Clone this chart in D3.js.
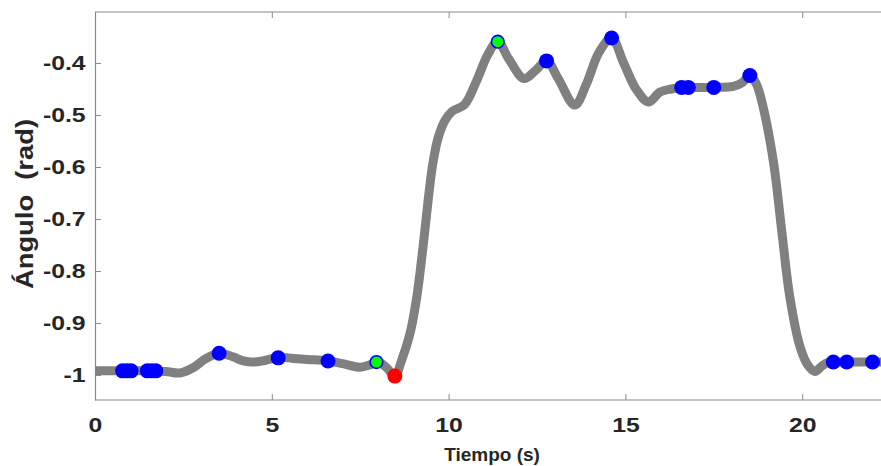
<!DOCTYPE html>
<html>
<head>
<meta charset="utf-8">
<script src="https://cdn.jsdelivr.net/npm/d3@7"></script>
<style>
  body { margin: 0; background: #fff; }
  svg { display: block; font-family: "Liberation Sans", Arial, sans-serif; }
</style>
</head>
<body>
<svg id="chart" width="881" height="466"></svg>
<script>
// time (s) and joint angle (rad)
const time = [0, 0.5, 1.0, 1.5, 2.0, 2.4, 2.8, 3.1, 3.5, 3.9, 4.2, 4.5, 4.8, 5.2, 5.6, 6.0,
  6.6, 7.0, 7.5, 7.8, 8.0, 8.25, 8.48, 8.67, 8.91, 9.1, 9.28, 9.42, 9.55, 9.7, 9.9, 10.1,
  10.45, 10.8, 11.1, 11.39, 11.7, 12.13, 12.45, 12.77, 13.1, 13.57, 13.9, 14.25, 14.61,
  14.95, 15.3, 15.65, 15.98, 16.3, 16.6, 17.0, 17.5, 18.05, 18.3, 18.52, 18.7, 18.85,
  19.18, 19.42, 19.65, 19.94, 20.15, 20.36, 20.55, 20.75, 21.0, 22.3];
const angle = [-0.992, -0.992, -0.992, -0.992, -0.993, -0.996, -0.985, -0.970, -0.958, -0.965,
  -0.973, -0.975, -0.972, -0.966, -0.968, -0.970, -0.973, -0.978, -0.985, -0.980, -0.975,
  -0.986, -1.002, -0.972, -0.920, -0.850, -0.752, -0.665, -0.595, -0.545, -0.510, -0.493,
  -0.480, -0.433, -0.385, -0.359, -0.392, -0.430, -0.415, -0.396, -0.430, -0.481, -0.440,
  -0.380, -0.352, -0.400, -0.450, -0.475, -0.456, -0.450, -0.447, -0.447, -0.447, -0.445,
  -0.438, -0.424, -0.440, -0.472, -0.587, -0.722, -0.850, -0.946, -0.980, -0.993, -0.983,
  -0.975, -0.975, -0.975];

// detected events
const blueTime = [0.78, 0.9, 1.02, 1.48, 1.6, 1.72, 3.51, 5.18, 6.59, 12.77, 14.61, 16.59,
  16.78, 17.5, 18.52, 20.88, 21.26, 21.99];
const blueAngle = [-0.992, -0.992, -0.992, -0.992, -0.992, -0.992, -0.958, -0.967, -0.973,
  -0.396, -0.352, -0.447, -0.447, -0.447, -0.424, -0.975, -0.975, -0.975];
const greenTime = [7.96, 11.39];
const greenAngle = [-0.975, -0.359];
const redTime = [8.48];
const redAngle = [-1.002];

const xTicks = [0, 5, 10, 15, 20];
const yTicks = [-1, -0.9, -0.8, -0.7, -0.6, -0.5, -0.4];

const margin = { top: 12, left: 95, bottom: 66 };
const W = 881, H = 466;

const svg = d3.select("#chart");

const x = d3.scaleLinear().domain([0, 22.3]).range([margin.left, margin.left + 22.3 * 35.36]);
const y = d3.scaleLinear().domain([-1.048, -0.302]).range([H - margin.bottom, margin.top]);

// clip the trace to the axes box, like the original plot
svg.append("clipPath").attr("id", "plotArea")
  .append("rect")
  .attr("x", margin.left).attr("y", margin.top)
  .attr("width", W - margin.left).attr("height", H - margin.bottom - margin.top);

const fmt = d => (+d.toFixed(1)).toString();
const axisColor = "#8a8a8a";

// bottom axis
const gx = svg.append("g")
  .attr("transform", "translate(0," + (H - margin.bottom) + ")")
  .call(d3.axisBottom(x).tickValues(xTicks).tickFormat(fmt).tickSizeInner(-6).tickSizeOuter(0).tickPadding(17));

// top axis (ticks only)
const gt = svg.append("g")
  .attr("transform", "translate(0," + margin.top + ")")
  .call(d3.axisTop(x).tickValues(xTicks).tickFormat("").tickSizeInner(-6).tickSizeOuter(0));

// left axis
const gy = svg.append("g")
  .attr("transform", "translate(" + margin.left + ",0)")
  .call(d3.axisLeft(y).tickValues(yTicks).tickFormat(fmt).tickSizeInner(-6).tickSizeOuter(0).tickPadding(8));

[gx, gt, gy].forEach(g => {
  g.select(".domain").attr("stroke", axisColor).attr("stroke-width", 1.2);
  g.selectAll(".tick line").attr("stroke", axisColor);
  g.selectAll("text")
    .attr("fill", "#262626")
    .attr("transform", "scale(1.18,1)")
    .style("font-family", '"Liberation Sans", Arial, sans-serif')
    .style("font-size", "21px")
    .style("font-weight", "bold");
});
gx.select(".domain").attr("d", "M" + margin.left + ",0H" + W);
gt.select(".domain").attr("d", "M" + margin.left + ",0H" + W);

// trace
const pts = time.map((t, i) => [t, angle[i]]);
svg.append("path")
  .datum(pts)
  .attr("clip-path", "url(#plotArea)")
  .attr("fill", "none")
  .attr("stroke", "#808080")
  .attr("stroke-width", 9)
  .attr("stroke-linecap", "round")
  .attr("stroke-linejoin", "round")
  .attr("d", d3.line().x(d => x(d[0])).y(d => y(d[1])).curve(d3.curveCatmullRom.alpha(0.5)));

// markers
svg.append("g").selectAll("circle")
  .data(blueTime.map((t, i) => [t, blueAngle[i]]))
  .join("circle")
  .attr("cx", d => x(d[0])).attr("cy", d => y(d[1])).attr("r", 7.5)
  .attr("fill", "#0000ff");

svg.append("g").selectAll("circle")
  .data(redTime.map((t, i) => [t, redAngle[i]]))
  .join("circle")
  .attr("cx", d => x(d[0])).attr("cy", d => y(d[1])).attr("r", 7.5)
  .attr("fill", "#ff0000");

svg.append("g").selectAll("circle")
  .data(greenTime.map((t, i) => [t, greenAngle[i]]))
  .join("circle")
  .attr("cx", d => x(d[0])).attr("cy", d => y(d[1])).attr("r", 6.3)
  .attr("fill", "#00ff00")
  .attr("stroke", "#0000ff")
  .attr("stroke-width", 1.6);

// axis labels
svg.append("text")
  .attr("x", 492).attr("y", 461)
  .attr("text-anchor", "middle")
  .attr("fill", "#262626")
  .style("font-size", "19px").style("font-weight", "bold")
  .text("Tiempo (s)");

svg.append("text")
  .attr("transform", "translate(33,204) rotate(-90)")
  .attr("text-anchor", "middle")
  .attr("fill", "#262626")
  .attr("textLength", 170)
  .attr("lengthAdjust", "spacingAndGlyphs")
  .style("font-size", "23px").style("font-weight", "bold")
  .style("white-space", "pre")
  .text("Ángulo  (rad)");
</script>
</body>
</html>
